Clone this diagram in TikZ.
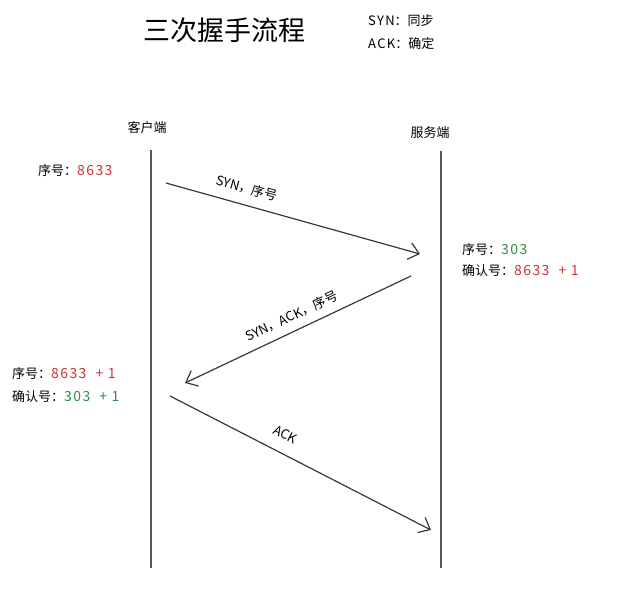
\documentclass[tikz,border=0pt]{standalone}
\usepackage{fontspec}
\setmainfont{Noto Sans CJK SC}
\newfontfamily\handfont[LetterSpace=10]{Noto Sans CJK SC}
\usetikzlibrary{arrows.meta}

\definecolor{numred}{RGB}{205,50,55}
\definecolor{numgreen}{RGB}{50,140,70}
\newcommand{\rednum}[1]{{\fontsize{14}{16}\handfont\color{numred}#1}}
\newcommand{\greennum}[1]{{\fontsize{14}{16}\handfont\color{numgreen}#1}}

\tikzset{
	lifeline/.style={draw=black!65, line width=1.4pt},
	msg/.style={draw=black!78, line width=1.2pt, -{Straight Barb[length=10pt,width=17pt]}},
	txt/.style={font=\fontsize{13}{15}\selectfont, inner sep=0pt},
	msglabel/.style={font=\fontsize{13}{15}\selectfont, inner sep=0pt, sloped},
}

\begin{document}
\begin{tikzpicture}[x=1pt, y=-1pt]
			%%%%% START %%%%%
			\useasboundingbox (0, 0) rectangle (617, 595);
			
			% title and legend
			\node[inner sep=0pt, font=\fontsize{27}{30}\selectfont] (title) at (224, 30) {三次握手流程};
			\node[txt, anchor=west] (syn) at (368, 21) {{\handfont SYN}：同步};
			\node[txt, anchor=west] (ack) at (368, 44) {{\handfont ACK}：确定};
			
			% both ends
			\node[txt] (client) at (147, 128) {客户端};
			\node[txt] (server) at (430, 133) {服务端};
			
			\coordinate (ctop) at (151, 150);
			\coordinate (cbot) at (151, 568);
			\coordinate (stop) at (441, 151);
			\coordinate (sbot) at (441, 568);
			\draw[lifeline] (ctop) -- (cbot);
			\draw[lifeline] (stop) -- (sbot);
			
			% sequence numbers
			\node[txt, anchor=west] (cseq) at (38, 171) {序号：\rednum{8633}};
			\node[txt, anchor=west] (sseq) at (462, 250) {序号：\greennum{303}};
			\node[txt, anchor=west] (sack) at (462, 271) {确认号：\rednum{8633\ \ +\ 1}};
			\node[txt, anchor=west] (cseq2) at (12, 374) {序号：\rednum{8633\ \ +\ 1}};
			\node[txt, anchor=west] (cack) at (12, 397) {确认号：\greennum{303\ \ +\ 1}};
			
			% messages
			\coordinate (m1a) at (166, 183);
			\coordinate (m1b) at (420, 254);
			\coordinate (m2a) at (411, 276);
			\coordinate (m2b) at (185, 383);
			\coordinate (m3a) at (170, 396);
			\coordinate (m3b) at (431, 530);
			
			\draw[msg] (m1a) -- node[msglabel, pos=0.3, above=10pt] (l1) {SYN，序号} (m1b);
			\draw[msg] (m2a) -- node[msglabel, pos=0.5, above=8pt] (l2) {SYN，ACK，序号} (m2b);
			\draw[msg] (m3a) -- node[msglabel, pos=0.41, above=13pt] (l3) {ACK} (m3b);
			
			%%%%% END %%%%%
\end{tikzpicture}
\end{document}
